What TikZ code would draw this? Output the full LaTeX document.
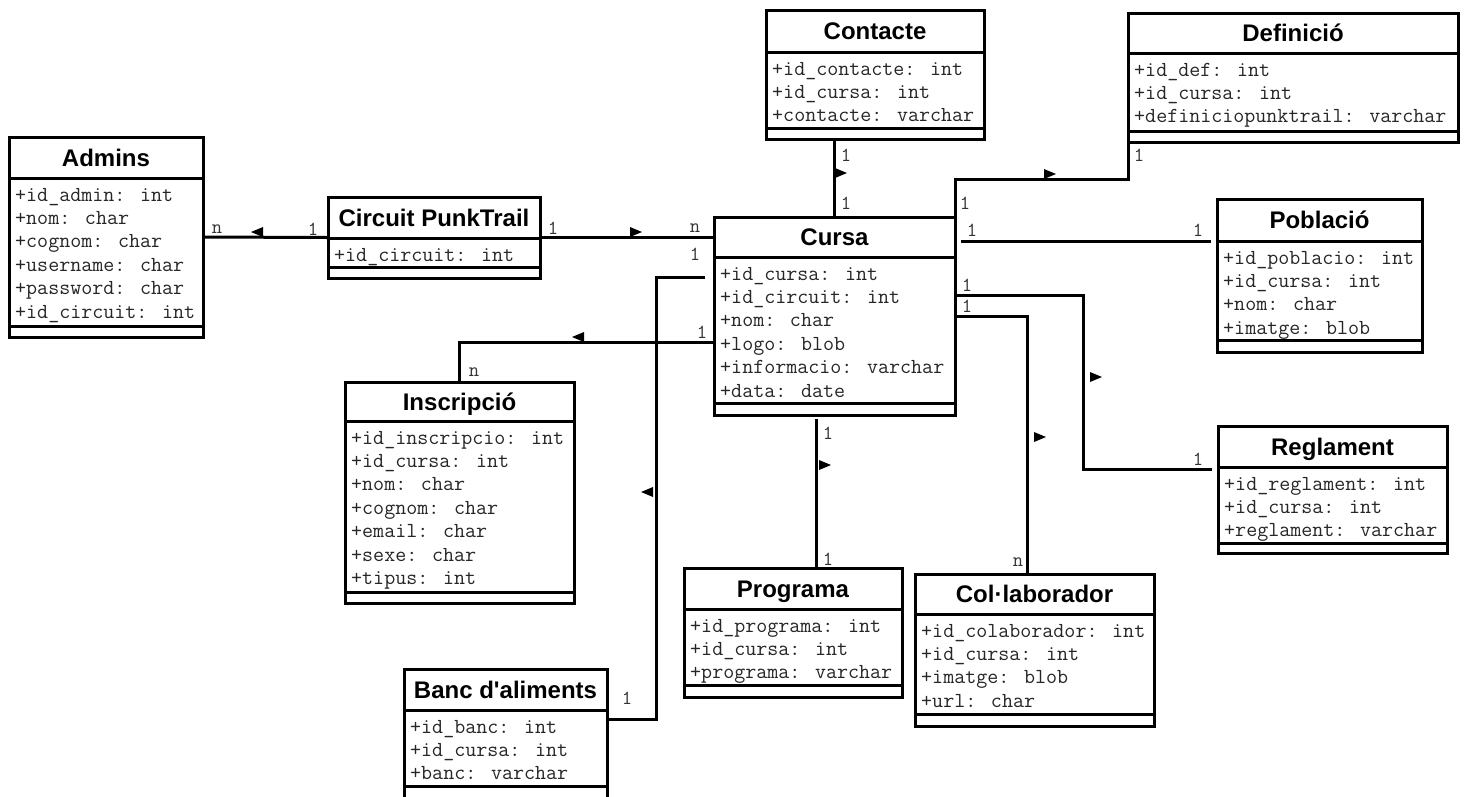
\documentclass[tikz,border=0pt]{standalone}
\usepackage{fontspec}
\setmainfont{Liberation Sans}
\newfontfamily\classfam{Liberation Sans}

\tikzset{
  x=1pt, y=-1pt,
  classbox/.style={draw, line width=3, fill=white, rectangle, inner sep=0, outer sep=0},
  rule/.style={line width=3},
  classtitle/.style={anchor=base, inner sep=0, font=\classfam\bfseries\fontsize{24}{26}\selectfont},
  attr/.style={anchor=base west, inner sep=0, font=\ttfamily\fontsize{21.4}{24}\selectfont, text=black!85},
  mult/.style={inner sep=0, font=\ttfamily\fontsize{20}{22}\selectfont, text=black!80},
  assoc/.style={line width=3},
  readmark/.style={fill=black},
}

% #1 name, #2 left, #3 top, #4 right, #5 title rule, #6 attribute rule, #7 bottom, #8 title
\newcommand\umlclass[8]{%
  \node[classbox, minimum width={(#4-#2)*1pt}, minimum height={(#7-#3)*1pt}]
    (#1) at ({(#2+#4)/2},{(#3+#7)/2}) {};
  \draw[rule] (#2,#5) -- (#4,#5);
  \draw[rule] (#2,#6) -- (#4,#6);
  \node[classtitle] (#1-title) at ({(#2+#4)/2},{(#3+#5)/2+8.5}) {#8};
}
% #1 name, #2 left, #3 title rule, #4 attribute list
\newcommand\umlattrs[4]{%
  \foreach \t [count=\i] in {#4}
    \node[attr] (#1-a\i) at ({#2+6},{#3+23+(\i-1)*23.4}) {\t};
}
% reading-direction triangles, centred on the given point
\newcommand\readL[1]{\fill[readmark] #1 ++(-6,0) -- ++(12,-5) -- ++(0,10) -- cycle;}
\newcommand\readR[1]{\fill[readmark] #1 ++(6,0) -- ++(-12,-5) -- ++(0,10) -- cycle;}

\begin{document}
\begin{tikzpicture}
\useasboundingbox (0,0) rectangle (1469,796);
\fill[white] (0,0) rectangle (1469,796);

% ---- classes ----
\umlclass{admins}{9}{137}{203}{178}{326}{337}{Admins}
\umlattrs{admins}{9}{178}{+id\_admin: int, +nom: char, +cognom: char, +username: char, +password: char, +id\_circuit: int}

\umlclass{circuit}{328}{197}{540}{238}{267}{278}{Circuit PunkTrail}
\umlattrs{circuit}{328}{238}{+id\_circuit: int}

\umlclass{contacte}{766}{10}{984}{52}{128}{139}{Contacte}
\umlattrs{contacte}{766}{52}{+id\_contacte: int, +id\_cursa: int, +contacte: varchar}

\umlclass{definicio}{1128}{13}{1458}{53}{131}{142}{Definició}
\umlattrs{definicio}{1128}{53}{+id\_def: int, +id\_cursa: int, +definiciopunktrail: varchar}

\umlclass{cursa}{714}{217}{955}{257}{403}{415}{Cursa}
\umlattrs{cursa}{714}{257}{+id\_cursa: int, +id\_circuit: int, +nom: char, +logo: blob, +informacio: varchar, +data: date}

\umlclass{poblacio}{1217}{199}{1422}{241}{340}{352}{Població}
\umlattrs{poblacio}{1217}{241}{+id\_poblacio: int, +id\_cursa: int, +nom: char, +imatge: blob}

\umlclass{inscripcio}{345}{382}{574}{421}{592}{603}{Inscripció}
\umlattrs{inscripcio}{345}{421}{+id\_inscripcio: int, +id\_cursa: int, +nom: char, +cognom: char, +email: char, +sexe: char, +tipus: int}

\umlclass{reglament}{1218}{426}{1447}{467}{543}{553}{Reglament}
\umlattrs{reglament}{1218}{467}{+id\_reglament: int, +id\_cursa: int, +reglament: varchar}

\umlclass{programa}{684}{568}{902}{609}{685}{697}{Programa}
\umlattrs{programa}{684}{609}{+id\_programa: int, +id\_cursa: int, +programa: varchar}

\umlclass{collab}{915}{574}{1154}{614}{714}{726}{Col·laborador}
\umlattrs{collab}{915}{614}{+id\_colaborador: int, +id\_cursa: int, +imatge: blob, +url: char}

\umlclass{banc}{404}{669}{607}{710}{786}{800}{Banc d'aliments}
\umlattrs{banc}{404}{710}{+id\_banc: int, +id\_cursa: int, +banc: varchar}

% ---- connector end points and bends ----
\coordinate (def-bend) at (1128,179);
\coordinate (pob-a) at (961,241);
\coordinate (pob-b) at (1211,241);
\coordinate (reg-a) at (955,295);
\coordinate (reg-bend) at (1083,469);
\coordinate (reg-b) at (1212,469);
\coordinate (col-b) at (1027,574);
\coordinate (prog-a) at (816,419);
\coordinate (ins-a) at (714,342);
\coordinate (banc-a) at (705,277);
\coordinate (banc-bend) at (656,719);

% ---- associations ----
\draw[assoc] (admins.east) -- (circuit.west);
\draw[assoc] (circuit.east) -- (circuit.east -| cursa.west);
\draw[assoc] (contacte.south -| cursa.north) -- (cursa.north);
\draw[assoc] (cursa.north east) |- (def-bend) -- (definicio.south west);
\draw[assoc] (pob-a) -- (pob-b);
\draw[assoc] (reg-a) -| (reg-bend) -- (reg-b);
\draw[assoc] (cursa.east) -| (col-b);
\draw[assoc] (prog-a) -- (prog-a |- programa.north);
\draw[assoc] (ins-a) -| (inscripcio.north);
\draw[assoc] (banc-a) -| (banc-bend) -- (banc-bend -| banc.east);

% ---- reading directions ----
\readL{(257,232)}
\readR{(636,232)}
\readR{(841,173)}
\readR{(1050,174)}
\readL{(578,337)}
\readL{(647,492)}
\readR{(825,465)}
\readR{(1040,437)}
\readR{(1096,377)}

% ---- multiplicities ----
\node[mult] (m1) at (217,229) {n};
\node[mult] (m2) at (313,229) {1};
\node[mult] (m3) at (553,228) {1};
\node[mult] (m4) at (695,228) {n};
\node[mult] (m5) at (695,254) {1};
\node[mult] (m6) at (846,155) {1};
\node[mult] (m7) at (846,203) {1};
\node[mult] (m8) at (1139,155) {1};
\node[mult] (m9) at (965,203) {1};
\node[mult] (m10) at (972,230) {1};
\node[mult] (m11) at (1198,230) {1};
\node[mult] (m12) at (967,285) {1};
\node[mult] (m13) at (967,306) {1};
\node[mult] (m14) at (1198,459) {1};
\node[mult] (m15) at (1018,562) {n};
\node[mult] (m16) at (828,433) {1};
\node[mult] (m17) at (828,559) {1};
\node[mult] (m18) at (702,332) {1};
\node[mult] (m19) at (474,372) {n};
\node[mult] (m20) at (627,698) {1};
\end{tikzpicture}
\end{document}
